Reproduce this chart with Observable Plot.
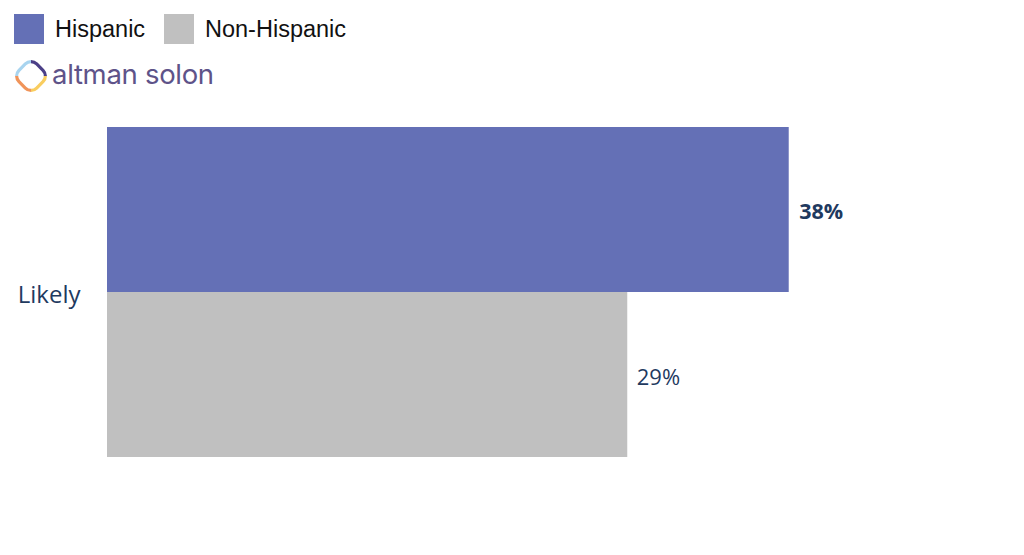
<!DOCTYPE html>
<html>
<head>
<meta charset="utf-8">
<script src="https://cdn.jsdelivr.net/npm/d3@7"></script>
<script src="https://cdn.jsdelivr.net/npm/@observablehq/plot@0.6"></script>
<style>
  html, body { margin: 0; padding: 0; background: #fff; width: 1024px; height: 555px; overflow: hidden; }
  #header { position: relative; height: 100px; }
  .leg { position: absolute; top: 14px; display: flex; align-items: center; font-family: "Liberation Sans", Arial, sans-serif; font-size: 23.5px; color: #111; line-height: 30px; }
  .sw { width: 30px; height: 30px; margin-right: 11px; }
  #logo { position: absolute; left: 15px; top: 59px; display: flex; align-items: center; }
  #logo span { font-family: "Inter", "Liberation Sans", sans-serif; font-size: 27.5px; color: #5e5389; margin-left: 5px; letter-spacing: -0.3px; position: relative; top: -2px; }
</style>
</head>
<body>
<div id="header"></div>
<div id="chart"></div>
<script>
const categories = ["Likely"];
const series = ["Hispanic", "Non-Hispanic"];
const values = [38, 29];
const colors = ["#6470b6", "#c0c0c0"];
const legendX = [14, 164];

const header = document.getElementById("header");
series.forEach((s, i) => {
  const d = document.createElement("div");
  d.className = "leg";
  d.style.left = legendX[i] + "px";
  d.innerHTML = `<div class="sw" style="background:${colors[i]}"></div>${s}`;
  header.appendChild(d);
});
const logo = document.createElement("div");
logo.id = "logo";
logo.innerHTML = `<svg width="32" height="32" viewBox="0 0 32 32">
  <g transform="translate(16,16) rotate(45)" fill="none" stroke-width="3.2">
    <path d="M -10.157 -10.157 A 8 8 0 0 1 -4.5 -12.5 L 4.5 -12.5 A 8 8 0 0 1 10.157 -10.157" stroke="#4b3f87"/>
    <path d="M 10.157 -10.157 A 8 8 0 0 1 12.5 -4.5 L 12.5 4.5 A 8 8 0 0 1 10.157 10.157" stroke="#f9cd5f"/>
    <path d="M 10.157 10.157 A 8 8 0 0 1 4.5 12.5 L -4.5 12.5 A 8 8 0 0 1 -10.157 10.157" stroke="#f0945a"/>
    <path d="M -10.157 10.157 A 8 8 0 0 1 -12.5 4.5 L -12.5 -4.5 A 8 8 0 0 1 -10.157 -10.157" stroke="#a8d4ef"/>
  </g></svg><span>altman solon</span>`;
header.appendChild(logo);

const data = series.map((s, i) => ({category: categories[0], series: s, value: values[i]}));
const labelColor = "#1f3a5f";

const chart = Plot.plot({
  width: 1024,
  height: 455,
  marginLeft: 107,
  marginRight: 20,
  marginTop: 27,
  marginBottom: 98,
  style: { fontFamily: "'Open Sans', sans-serif", background: "#fff" },
  x: { domain: [0, 50], axis: null },
  y: { domain: series, padding: 0, axis: null },
  color: { domain: series, range: colors },
  marks: [
    Plot.barX(data, { x: "value", y: "series", fill: "series" }),
    Plot.text(data.filter(d => d.series === "Hispanic"), {
      x: "value", y: "series",
      text: d => d.value + "%",
      textAnchor: "start", dx: 10, dy: 2,
      fontSize: 21.5, fontWeight: "bold",
      fill: labelColor
    }),
    Plot.text(data.filter(d => d.series !== "Hispanic"), {
      x: "value", y: "series",
      text: d => d.value + "%",
      textAnchor: "start", dx: 9, dy: 3,
      fontSize: 22, fontWeight: "normal",
      fill: labelColor
    }),
    Plot.text(categories, {
      text: d => d,
      frameAnchor: "left",
      textAnchor: "end",
      dx: -27, dy: 3,
      fontSize: 24,
      fill: labelColor
    })
  ]
});
document.getElementById("chart").appendChild(chart);
</script>
</body>
</html>
